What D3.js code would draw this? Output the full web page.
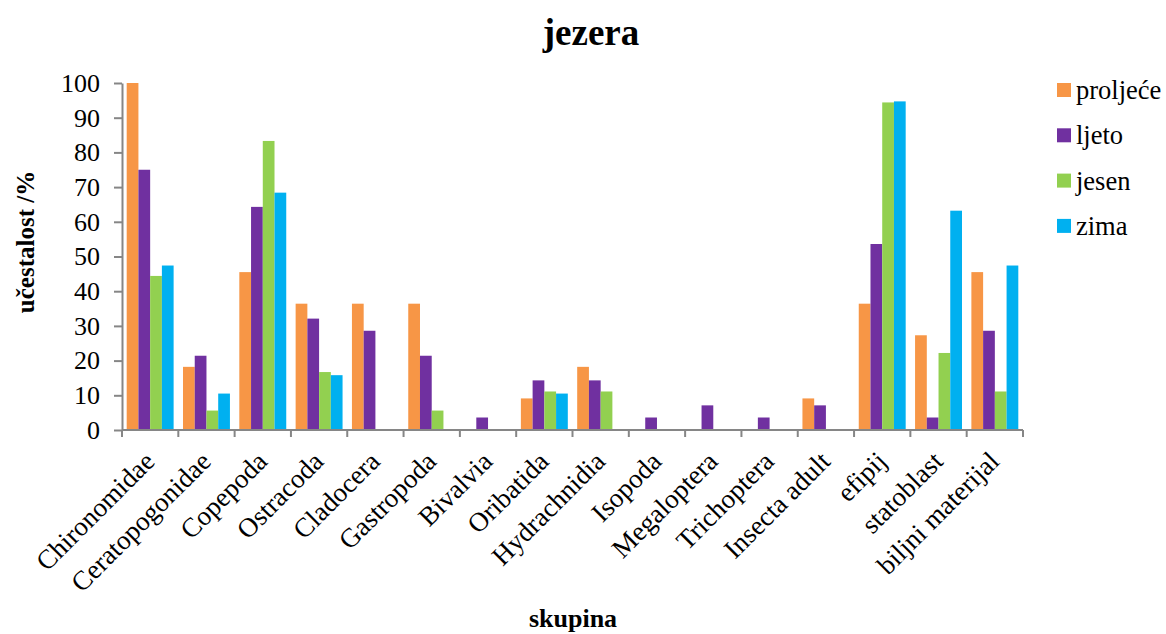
<!DOCTYPE html>
<html>
<head>
<meta charset="utf-8">
<script src="https://cdn.jsdelivr.net/npm/d3@7"></script>
<style>
  body { margin: 0; background: #fff; }
</style>
</head>
<body>
<svg id="chart" width="1166" height="634"></svg>
<script>
const categories = ["Chironomidae", "Ceratopogonidae", "Copepoda", "Ostracoda", "Cladocera",
  "Gastropoda", "Bivalvia", "Oribatida", "Hydrachnidia", "Isopoda", "Megaloptera",
  "Trichoptera", "Insecta adult", "efipij", "statoblast", "biljni materijal"];

const seasons = ["proljeće", "ljeto", "jesen", "zima"];

const proljece = [100, 18.2, 45.5, 36.4, 36.4, 36.4, 0, 9.1, 18.2, 0, 0, 0, 9.1, 36.4, 27.3, 45.5];
const ljeto    = [75, 21.4, 64.3, 32.1, 28.6, 21.4, 3.6, 14.3, 14.3, 3.6, 7.1, 3.6, 7.1, 53.6, 3.6, 28.6];
const jesen    = [44.4, 5.6, 83.3, 16.7, 0, 5.6, 0, 11.1, 11.1, 0, 0, 0, 0, 94.4, 22.2, 11.1];
const zima     = [47.4, 10.5, 68.4, 15.8, 0, 0, 0, 10.5, 0, 0, 0, 0, 0, 94.7, 63.2, 47.4];

const yTicks = [0, 10, 20, 30, 40, 50, 60, 70, 80, 90, 100];

const series = [proljece, ljeto, jesen, zima];
const colors = ["#F79646", "#7030A0", "#92D050", "#00B0F0"];

const FONT = '"Liberation Serif", "Times New Roman", serif';

const svg = d3.select("#chart");
const margin = {left: 122, right: 1023, top: 83, bottom: 430};

const x = d3.scaleBand()
  .domain(categories)
  .range([margin.left, margin.right])
  .paddingInner(0)
  .paddingOuter(0);

const inner = d3.scaleBand()
  .domain(seasons)
  .range([0, x.bandwidth()])
  .paddingOuter(0.4)
  .paddingInner(0);

const y = d3.scaleLinear().domain([0, 100]).range([margin.bottom, margin.top]);

// bars
const groups = svg.append("g")
  .selectAll("g")
  .data(categories)
  .enter().append("g")
    .attr("transform", d => "translate(" + x(d) + ",0)");

groups.selectAll("rect")
  .data((d, i) => seasons.map((s, j) => ({season: s, value: series[j][i], color: colors[j]})))
  .enter().append("rect")
    .filter(d => d.value > 0)
    .attr("x", d => inner(d.season))
    .attr("width", inner.bandwidth())
    .attr("y", d => y(d.value))
    .attr("height", d => y(0) - y(d.value))
    .attr("fill", d => d.color);

// y axis
const yAxis = svg.append("g")
  .attr("transform", "translate(" + margin.left + ",0)")
  .call(d3.axisLeft(y).tickValues(yTicks).tickSize(8).tickSizeOuter(0).tickPadding(14));

// x axis, ticks on category boundaries
const xAxis = svg.append("g")
  .attr("transform", "translate(0," + margin.bottom + ")");
xAxis.append("line")
  .attr("x1", margin.left).attr("x2", margin.right)
  .attr("y1", 0).attr("y2", 0);
xAxis.selectAll("line.tick")
  .data(categories.concat(["_end"]))
  .enter().append("line")
    .attr("class", "tick")
    .attr("x1", (d, i) => i < categories.length ? x(d) : margin.right)
    .attr("x2", (d, i) => i < categories.length ? x(d) : margin.right)
    .attr("y1", 0).attr("y2", 7);

xAxis.selectAll("text")
  .data(categories)
  .enter().append("text")
    .attr("transform", d => "translate(" + (x(d) + x.bandwidth() / 2 + 6) + ",33) rotate(-45)")
    .attr("text-anchor", "end")
    .style("font-size", "27px")
    .attr("fill", "#000")
    .text(d => d);

svg.selectAll(".domain, line").attr("stroke", "#868686").attr("stroke-width", 2);
yAxis.selectAll(".tick line").attr("stroke", "#868686").attr("stroke-width", 2);
yAxis.selectAll("text").attr("fill", "#000").style("font-size", "26px");

// titles
svg.append("text")
  .attr("x", 591).attr("y", 45)
  .attr("text-anchor", "middle")
  .style("font-size", "37px").style("font-weight", "bold")
  .text("jezera");

svg.append("text")
  .attr("transform", "translate(34,242) rotate(-90)")
  .attr("text-anchor", "middle")
  .style("font-size", "25px").style("font-weight", "bold")
  .text("učestalost /%");

svg.append("text")
  .attr("x", 573).attr("y", 627)
  .attr("text-anchor", "middle")
  .style("font-size", "26px").style("font-weight", "bold")
  .text("skupina");

// legend
const legend = svg.append("g")
  .selectAll("g")
  .data(seasons)
  .enter().append("g")
    .attr("transform", (d, i) => "translate(1057," + (90 + i * 45.3) + ")");
legend.append("rect")
  .attr("x", 0).attr("y", -7)
  .attr("width", 14).attr("height", 14)
  .attr("fill", (d, i) => colors[i]);
legend.append("text")
  .attr("x", 19).attr("y", 9)
  .style("font-size", "26.5px")
  .text(d => d);

// every label in serif, inline so nothing overrides it
svg.selectAll("text").style("font-family", FONT);
</script>
</body>
</html>
